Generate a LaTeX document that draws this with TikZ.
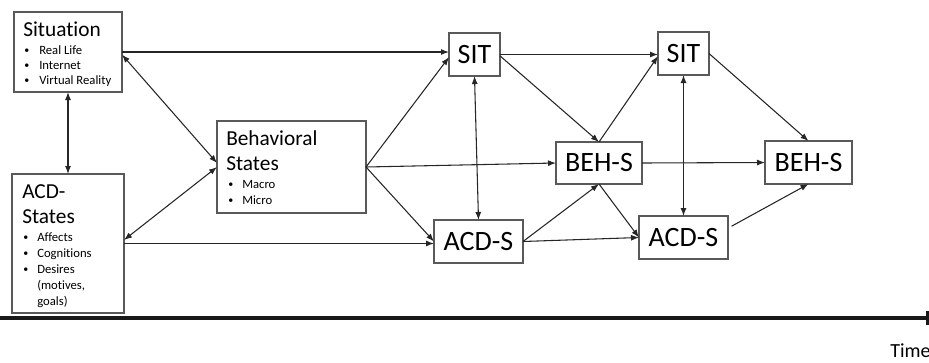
\documentclass[tikz,border=0pt]{standalone}
\usepackage{fontspec}
\setmainfont{Carlito}[Ligatures=CommonOff]
\usetikzlibrary{arrows.meta}
\begin{document}
\begin{tikzpicture}[x=0.75pt,y=-0.75pt,
  box/.style={draw=black!65,line width=0.9pt,inner sep=0pt,outer sep=0pt,rectangle},
  small/.style={box,font=\fontsize{21}{24}\selectfont},
  ttl/.style={anchor=base west,inner sep=0pt,font=\fontsize{16}{18}\selectfont},
  itm/.style={anchor=base west,inner sep=0pt,font=\fontsize{9.5}{11}\selectfont},
  bul/.style={anchor=base west,inner sep=0pt,font=\fontsize{7.5}{9}\selectfont},
  con/.style={draw=black!85,line width=0.8pt,-{Latex[length=6pt,width=4.5pt]}},
  bicon/.style={draw=black!85,line width=0.8pt,{Latex[length=6pt,width=4.5pt]}-{Latex[length=6pt,width=4.5pt]}}]
\useasboundingbox (0,0) rectangle (929,362);

% big boxes
\node[box,minimum width=81pt,minimum height=60pt] (sit0) at (68,52) {};
\node[box,minimum width=84pt,minimum height=104.25pt] (acd0) at (68,243.5) {};
\node[box,minimum width=111.75pt,minimum height=69pt] (beh0) at (291.5,167) {};

% texts of Situation
\node[ttl] (t1) at (23,36) {Situation};
\node[bul] (t1a) at (24,53) {•};
\node[itm] (t1b) at (39,54) {Real Life};
\node[bul] (t1c) at (24,68) {•};
\node[itm] (t1d) at (39,69) {Internet};
\node[bul] (t1e) at (24,83) {•};
\node[itm] (t1f) at (39,84) {Virtual Reality};

% texts of ACD-States
\node[ttl] (t2) at (22,198) {ACD-};
\node[ttl] (t2b) at (22,223) {States};
\node[bul] (t2c) at (23,240) {•};
\node[itm] (t2d) at (37,241) {Affects};
\node[bul] (t2e) at (23,256) {•};
\node[itm] (t2f) at (37,257) {Cognitions};
\node[bul] (t2g) at (23,272) {•};
\node[itm] (t2h) at (37,273) {Desires};
\node[itm] (t2i) at (37,289) {(motives,};
\node[itm] (t2j) at (37,305) {goals)};

% texts of Behavioral States
\node[ttl] (t3) at (226,145) {Behavioral};
\node[ttl] (t3b) at (226,170) {States};
\node[bul] (t3c) at (228,187) {•};
\node[itm] (t3d) at (242,188) {Macro};
\node[bul] (t3e) at (228,203) {•};
\node[itm] (t3f) at (242,204) {Micro};

% small boxes
\node[small,minimum width=38.25pt,minimum height=32.25pt] (sit1) at (474.5,54.5) {SIT};
\node[small,minimum width=66.75pt,minimum height=32.25pt] (acd1) at (478.5,241.5) {ACD-S};
\node[small,minimum width=64.5pt,minimum height=31.5pt] (beh1) at (599,163) {BEH-S};
\node[small,minimum width=38.25pt,minimum height=32.25pt] (sit2) at (683.5,53.5) {SIT};
\node[small,minimum width=66.75pt,minimum height=32.25pt] (acd2) at (683.5,237.5) {ACD-S};
\node[small,minimum width=65.25pt,minimum height=32.25pt] (beh2) at (808.5,162.5) {BEH-S};

% connectors
\draw[bicon] (sit0.south) -- (acd0.north);
\draw[con] (sit0.east) -- (sit1.west |- sit0.east);
\draw[bicon] ([yshift=-2pt]sit0.east) -- ([yshift=3pt]beh0.west);
\draw[bicon] (beh0.west) -- ([yshift=2.6pt]acd0.east);
\draw[con] (acd0.east) -- (acd1.west |- acd0.east);
\draw[con] (beh0.east) -- ([yshift=-2pt]sit1.west);
\draw[con] (beh0.east) -- (beh1.west);
\draw[con] (beh0.east) -- (acd1.west);
\draw[bicon] (sit1.south) -- (acd1.north);
\draw[con] (sit1.east) -- (sit2.west |- sit1.east);
\draw[con] ([yshift=-1pt]sit1.east) -- (beh1.north);
\draw[con] (beh1.north) -- ([yshift=-2pt]sit2.west);
\draw[con] (acd1.east) -- (beh1.south);
\draw[con] (acd1.east) -- (acd2.west);
\draw[con] (beh1.south) -- (acd2.west);
\draw[con] (beh1.east) -- (beh2.west);
\draw[bicon] (sit2.south) -- (acd2.north);
\draw[con] (sit2.east) -- (beh2.north);
\draw[con,shorten <=3pt] ([yshift=7pt]acd2.east) -- (beh2.south);

% time axis
\coordinate (ta) at (0,318);
\coordinate (tb) at (926,318);
\draw[line width=3pt,black!90] (ta) -- (tb);
\fill[black!90] (926,311) rectangle (929,325);
\node[anchor=base west,inner sep=0pt,font=\fontsize{15}{17}\selectfont] (time) at (890,357) {Time};
\end{tikzpicture}
\end{document}
